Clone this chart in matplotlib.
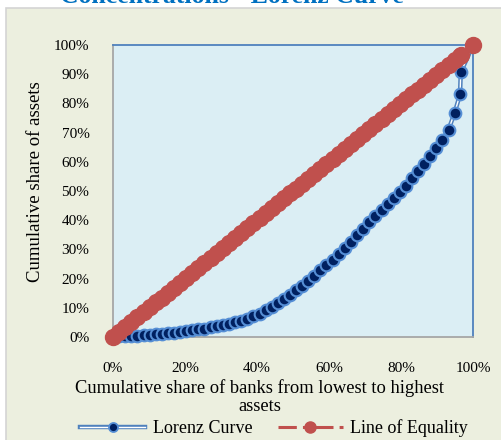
import matplotlib
matplotlib.use("Agg")
import matplotlib.pyplot as plt
from matplotlib.lines import Line2D
from matplotlib.patches import Rectangle
from matplotlib.legend_handler import HandlerTuple
from matplotlib.ticker import PercentFormatter

# cumulative share of banks (%), lowest to highest assets
bank_share = [0.0, 1.7, 3.4, 5.1, 6.8, 8.5, 10.2, 11.9, 13.5, 15.2,
              16.9, 18.6, 20.3, 22.0, 23.7, 25.4, 27.1, 28.8, 30.5, 32.2,
              33.9, 35.6, 37.3, 39.0, 40.7, 42.4, 44.1, 45.8, 47.5, 49.2,
              50.8, 52.5, 54.2, 55.9, 57.6, 59.3, 61.0, 62.7, 64.4, 66.1,
              67.8, 69.5, 71.2, 72.9, 74.6, 76.3, 78.0, 79.7, 81.4, 83.1,
              84.7, 86.4, 88.1, 89.8, 91.5, 93.2, 94.9, 96.4, 96.6, 100.0]

# cumulative share of assets (%)
asset_share = [0.0, 0.2, 0.3, 0.4, 0.5, 0.7, 0.8, 1.0, 1.1, 1.3,
               1.5, 1.7, 2.0, 2.3, 2.6, 2.9, 3.3, 3.7, 4.1, 4.5,
               5.0, 5.6, 6.3, 7.1, 8.0, 9.1, 10.3, 11.6, 13.0, 14.5,
               16.0, 17.6, 19.3, 21.0, 22.8, 24.6, 26.5, 28.5, 30.5, 32.6,
               34.8, 37.0, 39.3, 41.6, 43.6, 45.7, 47.6, 49.5, 51.8, 54.3,
               56.8, 59.3, 61.9, 64.6, 67.6, 71.0, 76.8, 83.1, 90.6, 100.0]

# line of equality uses the same bank shares
equality = list(bank_share)

TICKS = [0, 20, 40, 60, 80, 100]
YTICKS = [0, 10, 20, 30, 40, 50, 60, 70, 80, 90, 100]

LORENZ_EDGE = '#4F81BD'
LORENZ_RING = '#558ED5'
LORENZ_FACE = '#002060'
EQUAL_RED = '#C0504D'
SERIF = ['Liberation Serif', 'DejaVu Serif']

plt.rcParams['font.family'] = SERIF

fig = plt.figure(figsize=(5.02, 4.40), dpi=100)

# chart area background
fig.patches.append(Rectangle((6 / 502, -0.05), 1.1, 1 - 8 / 440 + 0.05,
                             transform=fig.transFigure, facecolor='#ECEFDF',
                             edgecolor='#D4D4D4', linewidth=1.2, zorder=0))

ax = fig.add_axes([113 / 502, 103 / 440, 360 / 502, 292 / 440])
ax.set_zorder(2)
ax.set_facecolor('#DBEEF4')

# Lorenz curve: double line with navy markers
ax.plot(bank_share, asset_share, color=LORENZ_EDGE, lw=3.2, zorder=3, clip_on=False)
ax.plot(bank_share, asset_share, color='white', lw=1.0, zorder=3.1, clip_on=False)
ax.plot(bank_share, asset_share, ls='none', marker='o', ms=8.4,
        mfc=LORENZ_FACE, mec=LORENZ_RING, mew=1.5, zorder=3.2, clip_on=False)

# line of equality
ax.plot(bank_share, equality, color=EQUAL_RED, lw=2.2, ls=(0, (6, 2, 2, 2)),
        marker='o', ms=11.5, mfc=EQUAL_RED, mec=EQUAL_RED, zorder=4, clip_on=False)

ax.set_xlim(0, 100)
ax.set_ylim(0, 100)
ax.set_xticks(TICKS)
ax.set_yticks(YTICKS)
ax.xaxis.set_major_formatter(PercentFormatter(decimals=0))
ax.yaxis.set_major_formatter(PercentFormatter(decimals=0))
ax.tick_params(axis='both', length=0, labelsize=11, colors='black')
ax.tick_params(axis='x', pad=18)
ax.tick_params(axis='y', pad=17)

for side in ['left', 'bottom']:
    ax.spines[side].set_color('#A6A6A6')
    ax.spines[side].set_linewidth(1.3)
for side in ['top', 'right']:
    ax.spines[side].set_color(LORENZ_EDGE)
    ax.spines[side].set_linewidth(1.3)

fig.text(260 / 502, 1 - 397 / 440, 'Cumulative share of banks from lowest to highest\nassets',
         ha='center', va='center', fontsize=13.3, linespacing=1.1, zorder=3)
fig.text(36 / 502, 1 - 182 / 440, 'Cumulative share of assets', rotation=90,
         ha='center', va='center', fontsize=13.5, zorder=3)

# title, partly above the top edge
fig.text(232 / 502, 1 - 3 / 440, 'Concentrations - Lorenz Curve', ha='center',
         va='baseline', fontsize=18.5, fontweight='bold', color='#0070C0', zorder=3)

# legend (smaller markers than in the plot)
h_outer = Line2D([], [], color=LORENZ_EDGE, lw=3.2)
h_inner = Line2D([], [], color='white', lw=1.0)
h_mark = Line2D([], [], ls='none', marker='o', ms=6.5, mfc=LORENZ_FACE,
                mec=LORENZ_RING, mew=1.3)
h_red = Line2D([], [], color=EQUAL_RED, lw=2.2, ls=(0, (6, 2, 2, 2)),
               marker='o', ms=8, mfc=EQUAL_RED, mec=EQUAL_RED)
leg = fig.legend([(h_outer, h_inner, h_mark), h_red], ['Lorenz Curve', 'Line of Equality'],
                 handler_map={tuple: HandlerTuple(ndivide=1, pad=0)},
                 loc='center', bbox_to_anchor=(274 / 502, 1 - 428 / 440), ncol=2,
                 frameon=False, fontsize=13, handlelength=3.6, handletextpad=0.4,
                 columnspacing=1.4, borderaxespad=0)
leg.set_zorder(3)

fig.savefig('out.png', dpi=100)
